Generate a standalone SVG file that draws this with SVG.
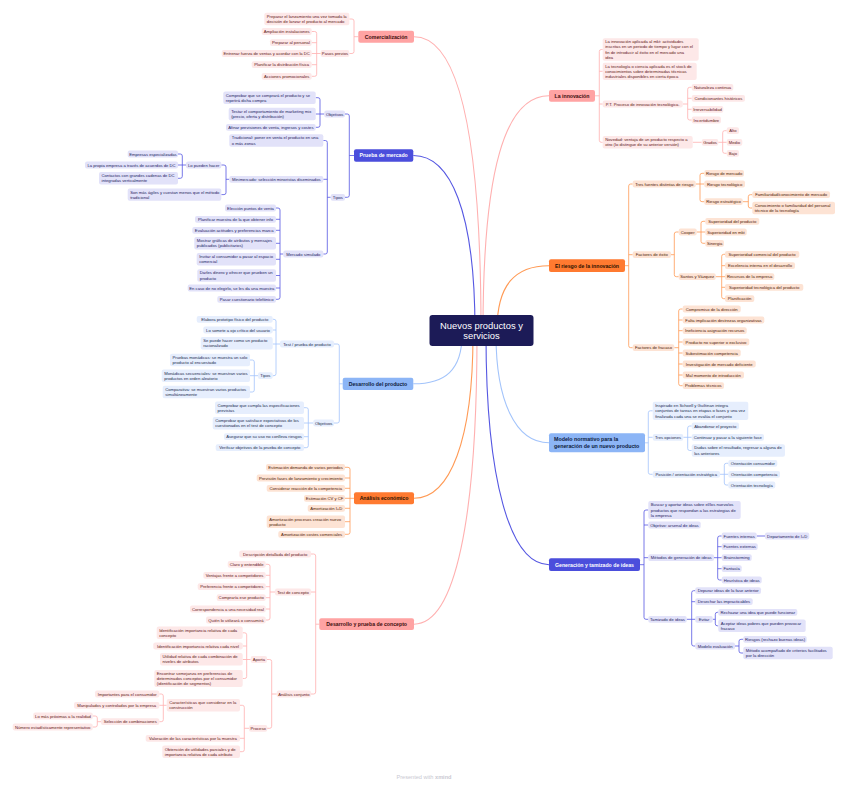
<svg xmlns="http://www.w3.org/2000/svg" width="848" height="788" viewBox="0 0 848 788">
<style>
text{font-family:"Liberation Sans",Arial,sans-serif;font-size:4.2px}
.s{text-anchor:middle}
.m{font-size:5.2px;font-weight:bold;text-anchor:middle}
rect{rx:2px}
.lp{fill:#fde8e8}.tp{fill:#5e1717}
.lb{fill:#e2e2f9}.tb{fill:#1d1d5e}
.ll{fill:#e6eefd}.tl{fill:#1b2b4d}
.lo{fill:#fde3d4}.to{fill:#4d2006}
.mp{fill:#ffa3a3}.tmp{fill:#3b0d0d}
.mb{fill:#4b4edc}.tmb{fill:#ffffff}
.ml{fill:#8cb5f6}.tml{fill:#0d1b3d}
.mo{fill:#ff7a30}.tmo{fill:#2b1100}
#connectors path{fill:none;stroke-width:.8}
.cp{stroke:#ffb0b0}.cb{stroke:#5557e2}.cl{stroke:#a3c4fb}.co{stroke:#ff9a55}
#connectors .main{stroke-width:1.1}
</style>
<rect x="0" y="0" width="848" height="788" fill="#ffffff" style="rx:0"/>
<g id="connectors">
<path class="cp main" d="M414 36.7C455 36.7 481 120 481 330"/>
<path class="cp main" d="M549 95.8C505 95.8 483 170 483 330"/>
<path class="cb main" d="M413.3 155.5C450 155.5 475 210 475 330"/>
<path class="co main" d="M549 265.7C515 265.7 497 285 497 330"/>
<path class="cl main" d="M413.3 383.8C445 383.8 462 370 462 335"/>
<path class="co main" d="M414 498.3C450 498.3 473 440 473 335"/>
<path class="cp main" d="M414 624.2C455 624.2 477 520 477 335"/>
<path class="cl main" d="M549 442.8C515 442.8 496 400 496 335"/>
<path class="cb main" d="M549 564.7C510 564.7 486 480 486 335"/>
<path class="cp" d="M358.3 36.7H354M349.3 19H352Q354 19 354 21V51.5Q354 53.5 352 53.5H349.3"/>
<path class="cp" d="M320.7 53.5H311.7M311.7 31.5H314.7Q316.7 31.5 316.7 33.5V74.3Q316.7 76.3 314.7 76.3H311.7M316.7 42.7H311.7M316.7 64.7H311.7"/>
<path class="cp" d="M319.3 624.2H315.7M311 554H313.7Q315.7 554 315.7 556V692Q315.7 694 313.7 694H311M315.7 592H311"/>
<path class="cp" d="M275 592H270M265.7 564.3H268Q270 564.3 270 566.3V618Q270 620 268 620H265.7M270 575.3H265.7M270 586.7H265.7M270 597.7H265.7M270 609H265.7"/>
<path class="cp" d="M276.7 694H271.7M267 659.5H269.7Q271.7 659.5 271.7 661.5V726.3Q271.7 728.3 269.7 728.3H267"/>
<path class="cp" d="M250.7 659.5H242.7M242.7 632.8H244.7Q246.7 632.8 246.7 634.8V676.5Q246.7 678.5 244.7 678.5H242.7M246.7 646H242.7"/>
<path class="cp" d="M249 728.3H244.3M240 705.3H242.3Q244.3 705.3 244.3 707.3V749.7Q244.3 751.7 242.3 751.7H240M244.3 738.3H240"/>
<path class="cp" d="M166.7 705.3H159.3M159.3 694H161.3Q163.3 694 163.3 696V719.7Q163.3 721.7 161.3 721.7H159.3"/>
<path class="cp" d="M101 721.7H97.3M92.7 716H95.3Q97.3 716 97.3 718V725Q97.3 727 95.3 727H92.7"/>
<path class="cp" d="M595 95.8H599.3M602.7 49.5H601.3Q599.3 49.5 599.3 51.5V140.3Q599.3 142.3 601.3 142.3H602.7M599.3 71.3H602.7M599.3 104H602.7"/>
<path class="cp" d="M682.7 104H687.7M691.7 87.3H689.7Q687.7 87.3 687.7 89.3V118Q687.7 120 689.7 120H691.7M687.7 98.3H691.7M687.7 109.3H691.7"/>
<path class="cp" d="M692.7 142.3H701.7"/>
<path class="cp" d="M718.3 142.3H726.7M726.7 130.7H724.7Q722.7 130.7 722.7 132.7V151.3Q722.7 153.3 724.7 153.3H726.7"/>
<path class="cb" d="M354 155.5H349.3M345 114H347.3Q349.3 114 349.3 116V195.3Q349.3 197.3 347.3 197.3H345"/>
<path class="cb" d="M324.3 114H315.7M315.7 97.7H318Q320 97.7 320 99.7V125.3Q320 127.3 318 127.3H315.7"/>
<path class="cb" d="M330.7 197.3H327.3M323.3 140.5H325.3Q327.3 140.5 327.3 142.5V252Q327.3 254 325.3 254H323.3M327.3 179.3H323.3"/>
<path class="cb" d="M229.3 179.3H226M221.3 165H224Q226 165 226 167V192.6Q226 194.6 224 194.6H221.3"/>
<path class="cb" d="M186 165H178M178 154H180.3Q182.3 154 182.3 156V176.3Q182.3 178.3 180.3 178.3H178"/>
<path class="cb" d="M283.3 254H280M276 208H278Q280 208 280 210V297.3Q280 299.3 278 299.3H276M280 219.3H276M280 230.3H276M280 243.3H276M280 259.3H276M280 275.5H276M280 288H276"/>
<path class="cb" d="M640 564.7H644M648.3 510H646Q644 510 644 512V617.3Q644 619.3 646 619.3H648.3M644 525H648.3M644 557.7H648.3"/>
<path class="cb" d="M714 557.7H721.7M721.7 536H719.7Q717.7 536 717.7 538V578Q717.7 580 719.7 580H721.7M717.7 546.7H721.7M717.7 568.7H721.7"/>
<path class="cb" d="M756.7 536H765"/>
<path class="cb" d="M686.7 619.3H695.3M695.3 590.7H693.7Q691.7 590.7 691.7 592.7V644Q691.7 646 693.7 646H695.3M691.7 601.7H695.3"/>
<path class="cb" d="M712.7 619.3H715.3M718.3 612.3H717.3Q715.3 612.3 715.3 614.3V623.8Q715.3 625.8 717.3 625.8H718.3"/>
<path class="cb" d="M735 646H739M743.3 639.3H741Q739 639.3 739 641.3V651Q739 653 741 653H743.3"/>
<path class="cl" d="M342.7 383.8H339.3M334 344H337.3Q339.3 344 339.3 346V421Q339.3 423 337.3 423H334"/>
<path class="cl" d="M280 344H272.7M272.7 319.3H274Q276 319.3 276 321.3V373.7Q276 375.7 274 375.7H272.7M276 330H272.7"/>
<path class="cl" d="M258 375.7H250M250 360H252.3Q254.3 360 254.3 362V390Q254.3 392 252.3 392H250"/>
<path class="cl" d="M313.3 423H304M304 407.7H306.3Q308.3 407.7 308.3 409.7V445.7Q308.3 447.7 306.3 447.7H304M308.3 436.7H304"/>
<path class="cl" d="M645 442.8H648.3M652.7 410.8H650.3Q648.3 410.8 648.3 412.8V472.3Q648.3 474.3 650.3 474.3H652.7M648.3 437.3H652.7"/>
<path class="cl" d="M683.3 437.3H691.7M691.7 426H689.7Q687.7 426 687.7 428V448.5Q687.7 450.5 689.7 450.5H691.7"/>
<path class="cl" d="M720 474.3H728.3M728.3 463.3H726.3Q724.3 463.3 724.3 465.3V483Q724.3 485 726.3 485H728.3"/>
<path class="co" d="M354 498.3H345M345 467.3H348Q350 467.3 350 469.3V532.3Q350 534.3 348 534.3H345M350 478H345M350 488.3H345M350 508.3H345M350 521.7H345"/>
<path class="co" d="M625 265.7H628.7M632.7 184H630.7Q628.7 184 628.7 186V345.7Q628.7 347.7 630.7 347.7H632.7M628.7 254.7H632.7"/>
<path class="co" d="M695.7 184H704.3M704.3 173.3H702Q700 173.3 700 175.3V199.7Q700 201.7 702 201.7H704.3"/>
<path class="co" d="M742.7 201.7H748.3M752.3 194.7H750.3Q748.3 194.7 748.3 196.7V206Q748.3 208 750.3 208H752.3"/>
<path class="co" d="M671 254.7H674.3M678.7 232H676.3Q674.3 232 674.3 234V274.7Q674.3 276.7 676.3 276.7H678.7"/>
<path class="co" d="M696.7 232H705.3M705.3 221.3H703Q701 221.3 701 223.3V241.3Q701 243.3 703 243.3H705.3"/>
<path class="co" d="M715.7 276.7H725M725 254.3H723.7Q721.7 254.3 721.7 256.3V296.7Q721.7 298.7 723.7 298.7H725M721.7 265.7H725M721.7 287.3H725"/>
<path class="co" d="M674.3 347.7H678.7M682.7 309H680.7Q678.7 309 678.7 311V383.7Q678.7 385.7 680.7 385.7H682.7M678.7 320H682.7M678.7 330.7H682.7M678.7 342H682.7M678.7 353H682.7M678.7 364H682.7M678.7 375H682.7"/>
</g>

<g id="central"><rect x="429.5" y="315" width="104" height="31" fill="#1c1b57" style="rx:3px"/><text x="481.5" y="328.5" class="s" fill="#ffffff" style="font-size:9.4px">Nuevos productos y</text><text x="481.5" y="338.8" class="s" fill="#ffffff" style="font-size:9.4px">servicios</text></g>

<!-- Comercialización -->
<g id="comercializacion"><rect class="mp" x="358.3" y="30.7" width="55.7" height="12"/><text class="m tmp" x="386.2" y="38.5">Comercialización</text></g>
<g id="c-lanzamiento"><rect class="lp" x="264.3" y="12.7" width="85" height="12.6"/><text class="tp" x="266.8" y="17.9">Preparar el lanzamiento una vez tomada la<tspan x="266.8" dy="5.2">decisión de lanzar el producto al mercado</tspan></text></g>
<g id="c-pasos"><rect class="lp" x="320.7" y="50.1" width="28.6" height="6.8"/><text class="s tp" x="335" y="55">Pasos previos</text></g>
<g id="c-ampliacion"><rect class="lp" x="261.7" y="28.1" width="50" height="6.8"/><text class="s tp" x="286.7" y="33">Ampliación instalaciones</text></g>
<g id="c-personal"><rect class="lp" x="270" y="39.3" width="41.7" height="6.8"/><text class="s tp" x="290.9" y="44.2">Preparar al personal</text></g>
<g id="c-entrenar"><rect class="lp" x="221.7" y="50.1" width="90" height="6.8"/><text class="s tp" x="266.7" y="55">Entrenar fuerza de ventas y acordar con la DC</text></g>
<g id="c-planificar"><rect class="lp" x="251.7" y="61.3" width="60" height="6.8"/><text class="s tp" x="281.7" y="66.2">Planificar la distribución física</text></g>
<g id="c-acciones"><rect class="lp" x="261.7" y="72.9" width="50" height="6.8"/><text class="s tp" x="286.7" y="77.8">Acciones promocionales</text></g>

<!-- Prueba de mercado -->
<g id="prueba-mercado"><rect class="mb" x="354" y="149.3" width="59.3" height="12.4"/><text class="m tmb" x="383.7" y="157.3">Prueba de mercado</text></g>
<g id="pm-objetivos"><rect class="lb" x="324.3" y="110.6" width="20.7" height="6.8"/><text class="s tb" x="334.7" y="115.5">Objetivos</text></g>
<g id="pm-tipos"><rect class="lb" x="330.7" y="193.9" width="14.3" height="6.8"/><text class="s tb" x="337.9" y="198.8">Tipos</text></g>
<g id="pm-o1"><rect class="lb" x="223.3" y="91.5" width="92.4" height="12.4"/><text class="tb" x="225.8" y="96.6">Comprobar que se comprará el producto y se<tspan x="225.8" dy="5.2">repetirá dicha compra</tspan></text></g>
<g id="pm-o2"><rect class="lb" x="228.7" y="107.8" width="87" height="12.4"/><text class="tb" x="231.2" y="112.9">Testar el comportamiento de marketing mix<tspan x="231.2" dy="5.2">(precio, oferta y distribución)</tspan></text></g>
<g id="pm-o3"><rect class="lb" x="226" y="123.9" width="89.7" height="6.8"/><text class="s tb" x="270.9" y="128.8">Afinar previsiones de venta, ingresos y costes</text></g>
<g id="pm-t1"><rect class="lb" x="229.3" y="134.3" width="94" height="12.4"/><text class="tb" x="231.8" y="139.4">Tradicional: poner en venta el producto en una<tspan x="231.8" dy="5.2">o más zonas</tspan></text></g>
<g id="pm-t2"><rect class="lb" x="229.3" y="175.9" width="94" height="6.8"/><text class="s tb" x="276.3" y="180.8">Minimercado: selección minoristas diseminados</text></g>
<g id="pm-t3"><rect class="lb" x="283.3" y="250.6" width="40" height="6.8"/><text class="s tb" x="303.3" y="255.5">Mercado simulado</text></g>
<g id="pm-pueden"><rect class="lb" x="186" y="161.6" width="35.3" height="6.8"/><text class="s tb" x="203.7" y="166.5">Lo pueden hacer</text></g>
<g id="pm-agiles"><rect class="lb" x="127.7" y="188.4" width="93.6" height="12.4"/><text class="tb" x="130.2" y="193.5">Son más ágiles y cuestan menos que el método<tspan x="130.2" dy="5.2">tradicional</tspan></text></g>
<g id="pm-empresas"><rect class="lb" x="127.7" y="150.6" width="50.3" height="6.8"/><text class="s tb" x="152.9" y="155.5">Empresas especializadas</text></g>
<g id="pm-propia"><rect class="lb" x="85" y="161.6" width="93" height="6.8"/><text class="s tb" x="131.5" y="166.5">La propia empresa a través de acuerdos de DC</text></g>
<g id="pm-contactos"><rect class="lb" x="99" y="172.1" width="79" height="12.4"/><text class="tb" x="101.5" y="177.2">Contactos con grandes cadenas de DC<tspan x="101.5" dy="5.2">integradas verticalmente</tspan></text></g>
<g id="pm-s1"><rect class="lb" x="225" y="204.6" width="51" height="6.8"/><text class="s tb" x="250.5" y="209.5">Elección puntos de venta</text></g>
<g id="pm-s2"><rect class="lb" x="195" y="215.9" width="81" height="6.8"/><text class="s tb" x="235.5" y="220.8">Planificar muestra de la que obtener info</text></g>
<g id="pm-s3"><rect class="lb" x="192.3" y="226.9" width="83.7" height="6.8"/><text class="s tb" x="234.2" y="231.8">Evaluación actitudes y preferencias marca</text></g>
<g id="pm-s4"><rect class="lb" x="194.3" y="237.1" width="81.7" height="12.4"/><text class="tb" x="196.8" y="242.2">Mostrar gráficas de atributos y mensajes<tspan x="196.8" dy="5.2">publicados (publicitarios)</tspan></text></g>
<g id="pm-s5"><rect class="lb" x="196.7" y="253.1" width="79.3" height="12.4"/><text class="tb" x="199.2" y="258.2">Invitar al consumidor a pasar al espacio<tspan x="199.2" dy="5.2">comercial</tspan></text></g>
<g id="pm-s6"><rect class="lb" x="197.3" y="269.3" width="78.7" height="12.4"/><text class="tb" x="199.8" y="274.4">Darles dinero y ofrecer que prueben un<tspan x="199.8" dy="5.2">producto</tspan></text></g>
<g id="pm-s7"><rect class="lb" x="187.7" y="284.6" width="88.3" height="6.8"/><text class="s tb" x="231.8" y="289.5">En caso de no elegirlo, se les da una muestra</text></g>
<g id="pm-s8"><rect class="lb" x="217.3" y="295.9" width="58.7" height="6.8"/><text class="s tb" x="246.6" y="300.8">Pasar cuestionario telefónico</text></g>

<!-- Desarrollo del producto -->
<g id="desarrollo-producto"><rect class="ml" x="342.7" y="377.7" width="70.6" height="12.3"/><text class="m tml" x="378" y="385.6">Desarrollo del producto</text></g>
<g id="dp-test"><rect class="ll" x="280" y="340.6" width="54" height="6.8"/><text class="s tl" x="307" y="345.5">Test / prueba de producto</text></g>
<g id="dp-objetivos"><rect class="ll" x="313.3" y="419.6" width="20.7" height="6.8"/><text class="s tl" x="323.7" y="424.5">Objetivos</text></g>
<g id="dp-t1"><rect class="ll" x="196.7" y="315.9" width="76" height="6.8"/><text class="s tl" x="234.7" y="320.8">Elabora prototipo físico del producto</text></g>
<g id="dp-t2"><rect class="ll" x="203.3" y="326.6" width="69.4" height="6.8"/><text class="s tl" x="238" y="331.5">Lo somete a ojo crítico del usuario</text></g>
<g id="dp-t3"><rect class="ll" x="200.7" y="337.1" width="72" height="12.4"/><text class="tl" x="203.2" y="342.2">Se puede hacer como un producto<tspan x="203.2" dy="5.2">racionalizado</tspan></text></g>
<g id="dp-tipos"><rect class="ll" x="258" y="372.3" width="14.7" height="6.8"/><text class="s tl" x="265.3" y="377.2">Tipos</text></g>
<g id="dp-p1"><rect class="ll" x="170" y="353.8" width="80" height="12.4"/><text class="tl" x="172.5" y="358.9">Pruebas monádicas: se muestra un solo<tspan x="172.5" dy="5.2">producto al encuestado</tspan></text></g>
<g id="dp-p2"><rect class="ll" x="161.7" y="369.6" width="88.3" height="12.4"/><text class="tl" x="164.2" y="374.7">Monádicas secuenciales: se muestran varios<tspan x="164.2" dy="5.2">productos en orden aleatorio</tspan></text></g>
<g id="dp-p3"><rect class="ll" x="162.7" y="385.8" width="87.3" height="12.4"/><text class="tl" x="165.2" y="390.9">Comparativa: se muestran varios productos<tspan x="165.2" dy="5.2">simultáneamente</tspan></text></g>
<g id="dp-o1"><rect class="ll" x="215" y="401.5" width="89" height="12.4"/><text class="tl" x="217.5" y="406.6">Comprobar que cumpla las especificaciones<tspan x="217.5" dy="5.2">previstas</tspan></text></g>
<g id="dp-o2"><rect class="ll" x="212.7" y="417.1" width="91.3" height="12.4"/><text class="tl" x="215.2" y="422.2">Comprobar que satisface expectativas de los<tspan x="215.2" dy="5.2">cuestionados en el test de concepto</tspan></text></g>
<g id="dp-o3"><rect class="ll" x="224" y="433.3" width="80" height="6.8"/><text class="s tl" x="264" y="438.2">Asegurar que su uso no conlleva riesgos</text></g>
<g id="dp-o4"><rect class="ll" x="215.7" y="444.3" width="88.3" height="6.8"/><text class="s tl" x="259.8" y="449.2">Verificar objetivos de la prueba de concepto</text></g>

<!-- Análisis económico -->
<g id="analisis-economico"><rect class="mo" x="354" y="492.3" width="60" height="12"/><text class="m tmo" x="384" y="500.1">Análisis económico</text></g>
<g id="ae-1"><rect class="lo" x="266" y="463.9" width="79" height="6.8"/><text class="s to" x="305.5" y="468.8">Estimación demanda de varios periodos</text></g>
<g id="ae-2"><rect class="lo" x="256.7" y="474.6" width="88.3" height="6.8"/><text class="s to" x="300.8" y="479.5">Previsión fases de lanzamiento y crecimiento</text></g>
<g id="ae-3"><rect class="lo" x="266.7" y="484.9" width="78.3" height="6.8"/><text class="s to" x="305.8" y="489.8">Considerar reacción de la competencia</text></g>
<g id="ae-4"><rect class="lo" x="304" y="494.9" width="41" height="6.8"/><text class="s to" x="324.5" y="499.8">Estimación CV y CF</text></g>
<g id="ae-5"><rect class="lo" x="307.7" y="504.9" width="37.3" height="6.8"/><text class="s to" x="326.3" y="509.8">Amortización I+D</text></g>
<g id="ae-6"><rect class="lo" x="266.7" y="515.5" width="78.3" height="12.4"/><text class="to" x="269.2" y="520.6">Amortización procesos creación nuevo<tspan x="269.2" dy="5.2">producto</tspan></text></g>
<g id="ae-7"><rect class="lo" x="278.3" y="530.9" width="66.7" height="6.8"/><text class="s to" x="311.6" y="535.8">Amortización costes comerciales</text></g>

<!-- Desarrollo y prueba de concepto -->
<g id="desarrollo-concepto"><rect class="mp" x="319.3" y="618.3" width="94.7" height="11.8"/><text class="m tmp" x="366.7" y="626">Desarrollo y prueba de concepto</text></g>
<g id="dc-descripcion"><rect class="lp" x="239.3" y="550.6" width="71.7" height="6.8"/><text class="s tp" x="275.2" y="555.5">Descripción detallada del producto</text></g>
<g id="dc-test"><rect class="lp" x="275" y="588.6" width="36" height="6.8"/><text class="s tp" x="293" y="593.5">Test de concepto</text></g>
<g id="dc-conjunto"><rect class="lp" x="276.7" y="690.6" width="34.3" height="6.8"/><text class="s tp" x="293.9" y="695.5">Análisis conjunto</text></g>
<g id="dc-t1"><rect class="lp" x="227.7" y="560.9" width="38" height="6.8"/><text class="s tp" x="246.7" y="565.8">Claro y entendible</text></g>
<g id="dc-t2"><rect class="lp" x="203.3" y="571.9" width="62.4" height="6.8"/><text class="s tp" x="234.5" y="576.8">Ventajas frente a competidores</text></g>
<g id="dc-t3"><rect class="lp" x="197.7" y="583.3" width="68" height="6.8"/><text class="s tp" x="231.7" y="588.2">Preferencia frente a competidores</text></g>
<g id="dc-t4"><rect class="lp" x="216.7" y="594.3" width="49" height="6.8"/><text class="s tp" x="241.2" y="599.2">Compraría ese producto</text></g>
<g id="dc-t5"><rect class="lp" x="190" y="605.6" width="75.7" height="6.8"/><text class="s tp" x="227.9" y="610.5">Correspondencia a una necesidad real</text></g>
<g id="dc-t6"><rect class="lp" x="206" y="616.6" width="59.7" height="6.8"/><text class="s tp" x="235.9" y="621.5">Quién lo utilizará o consumirá</text></g>
<g id="dc-aporta"><rect class="lp" x="250.7" y="656.1" width="16.3" height="6.8"/><text class="s tp" x="258.9" y="661">Aporta</text></g>
<g id="dc-proceso"><rect class="lp" x="249" y="724.9" width="18.3" height="6.8"/><text class="s tp" x="258.2" y="729.8">Proceso</text></g>
<g id="dc-a1"><rect class="lp" x="156.7" y="626.6" width="86" height="12.4"/><text class="tp" x="159.2" y="631.7">Identificación importancia relativa de cada<tspan x="159.2" dy="5.2">concepto</tspan></text></g>
<g id="dc-a2"><rect class="lp" x="153.3" y="642.6" width="89.4" height="6.8"/><text class="s tp" x="198" y="647.5">Identificación importancia relativa cada nivel</text></g>
<g id="dc-a3"><rect class="lp" x="160" y="653" width="82.7" height="12.4"/><text class="tp" x="162.5" y="658.1">Utilidad relativa de cada combinación de<tspan x="162.5" dy="5.2">niveles de atributos</tspan></text></g>
<g id="dc-a4"><rect class="lp" x="154.3" y="670" width="88.4" height="17"/><text class="tp" x="156.8" y="674.8">Encontrar semejanza en preferencias de<tspan x="156.8" dy="5.2">determinados conceptos por el consumidor</tspan><tspan x="156.8" dy="5.2">(identificación de segmentos)</tspan></text></g>
<g id="dc-p1"><rect class="lp" x="166.7" y="699.1" width="73.3" height="12.4"/><text class="tp" x="169.2" y="704.2">Características que considerar en la<tspan x="169.2" dy="5.2">construcción</tspan></text></g>
<g id="dc-p2"><rect class="lp" x="145.7" y="734.9" width="94.3" height="6.8"/><text class="s tp" x="192.9" y="739.8">Valoración de las características por la muestra</text></g>
<g id="dc-p3"><rect class="lp" x="162.3" y="745.5" width="77.7" height="12.4"/><text class="tp" x="164.8" y="750.6">Obtención de utilidades parciales y de<tspan x="164.8" dy="5.2">importancia relativa de cada atributo</tspan></text></g>
<g id="dc-c1"><rect class="lp" x="95" y="690.6" width="64.3" height="6.8"/><text class="s tp" x="127.2" y="695.5">Importantes para el consumidor</text></g>
<g id="dc-c2"><rect class="lp" x="74" y="701.9" width="85.3" height="6.8"/><text class="s tp" x="116.7" y="706.8">Manipulados y controlados por la empresa</text></g>
<g id="dc-c3"><rect class="lp" x="101" y="718.3" width="58.3" height="6.8"/><text class="s tp" x="130.2" y="723.2">Selección de combinaciones</text></g>
<g id="dc-s1"><rect class="lp" x="33.3" y="712.6" width="59.4" height="6.8"/><text class="s tp" x="63" y="717.5">Lo más próximas a la realidad</text></g>
<g id="dc-s2"><rect class="lp" x="12.7" y="723.6" width="80" height="6.8"/><text class="s tp" x="52.7" y="728.5">Número estadísticamente representativo</text></g>

<!-- La innovación -->
<g id="innovacion"><rect class="mp" x="549" y="90" width="46" height="11.7"/><text class="m tmp" x="572" y="97.6">La innovación</text></g>
<g id="in-1"><rect class="lp" x="602.7" y="38.3" width="96" height="22.4"/><text class="tp" x="605.2" y="43.2">La innovación aplicada al mkt: actividades<tspan x="605.2" dy="5.2">inscritas en un periodo de tiempo y lugar con el</tspan><tspan x="605.2" dy="5.2">fin de introducir al éxito en el mercado una</tspan><tspan x="605.2" dy="5.2">idea</tspan></text></g>
<g id="in-2"><rect class="lp" x="602.7" y="62.7" width="94" height="17.3"/><text class="tp" x="605.2" y="67.9">La tecnología o ciencia aplicada es el stock de<tspan x="605.2" dy="5.2">conocimientos sobre determinadas técnicas</tspan><tspan x="605.2" dy="5.2">industriales disponibles en cierta época</tspan></text></g>
<g id="in-pt"><rect class="lp" x="602.7" y="100.6" width="80" height="6.8"/><text class="s tp" x="642.7" y="105.5">P.T. Proceso de innovación tecnológica.</text></g>
<g id="in-novedad"><rect class="lp" x="602.7" y="136" width="90" height="12.6"/><text class="tp" x="605.2" y="141.2">Novedad: ventaja de un producto respecto a<tspan x="605.2" dy="5.2">otro (lo distingue de su anterior versión)</tspan></text></g>
<g id="in-p1"><rect class="lp" x="691.7" y="83.9" width="41.6" height="6.8"/><text class="s tp" x="712.5" y="88.8">Naturaleza continua</text></g>
<g id="in-p2"><rect class="lp" x="691.7" y="94.9" width="53.3" height="6.8"/><text class="s tp" x="718.4" y="99.8">Condicionantes históricos</text></g>
<g id="in-p3"><rect class="lp" x="691.7" y="105.9" width="31.6" height="6.8"/><text class="s tp" x="707.5" y="110.8">Irreversabilidad</text></g>
<g id="in-p4"><rect class="lp" x="691.7" y="116.6" width="29.3" height="6.8"/><text class="s tp" x="706.4" y="121.5">Incertidumbre</text></g>
<g id="in-grados"><rect class="lp" x="701.7" y="138.9" width="16.6" height="6.8"/><text class="s tp" x="710" y="143.8">Grados</text></g>
<g id="in-alto"><rect class="lp" x="726.7" y="127.3" width="12.3" height="6.8"/><text class="s tp" x="732.9" y="132.2">Alto</text></g>
<g id="in-medio"><rect class="lp" x="726.7" y="138.9" width="15.6" height="6.8"/><text class="s tp" x="734.5" y="143.8">Medio</text></g>
<g id="in-bajo"><rect class="lp" x="726.7" y="149.9" width="12.3" height="6.8"/><text class="s tp" x="732.9" y="154.8">Bajo</text></g>

<!-- El riesgo de la innovación -->
<g id="riesgo"><rect class="mo" x="549" y="259.3" width="76" height="12.7"/><text class="m tmo" x="587" y="267.5">El riesgo de la innovación</text></g>
<g id="r-tres"><rect class="lo" x="632.7" y="180.6" width="63" height="6.8"/><text class="s to" x="664.2" y="185.5">Tres fuentes distintas de riesgo</text></g>
<g id="r-exito"><rect class="lo" x="632.7" y="251.3" width="38.3" height="6.8"/><text class="s to" x="651.8" y="256.2">Factores de éxito</text></g>
<g id="r-fracaso"><rect class="lo" x="632.7" y="344.3" width="41.6" height="6.8"/><text class="s to" x="653.5" y="349.2">Factores de fracaso</text></g>
<g id="r-t1"><rect class="lo" x="704.3" y="169.9" width="39.7" height="6.8"/><text class="s to" x="724.1" y="174.8">Riesgo de mercado</text></g>
<g id="r-t2"><rect class="lo" x="704.3" y="180.6" width="40.7" height="6.8"/><text class="s to" x="724.6" y="185.5">Riesgo tecnológico</text></g>
<g id="r-t3"><rect class="lo" x="704.3" y="198.3" width="38.4" height="6.8"/><text class="s to" x="723.5" y="203.2">Riesgo estratégico</text></g>
<g id="r-e1"><rect class="lo" x="752.3" y="191.3" width="77.7" height="6.8"/><text class="s to" x="791.1" y="196.2">Familiaridad/conocimiento de mercado</text></g>
<g id="r-e2"><rect class="lo" x="752.3" y="201.8" width="82.7" height="12.4"/><text class="to" x="754.8" y="206.9">Conocimiento o familiaridad del personal<tspan x="754.8" dy="5.2">técnico de la tecnología</tspan></text></g>
<g id="r-cooper"><rect class="lo" x="678.7" y="228.6" width="18" height="6.8"/><text class="s to" x="687.7" y="233.5">Cooper</text></g>
<g id="r-santos"><rect class="lo" x="678.7" y="273.3" width="37" height="6.8"/><text class="s to" x="697.2" y="278.2">Santos y Vázquez</text></g>
<g id="r-c1"><rect class="lo" x="705.3" y="217.9" width="54" height="6.8"/><text class="s to" x="732.3" y="222.8">Superioridad del producto</text></g>
<g id="r-c2"><rect class="lo" x="705.3" y="228.6" width="41.4" height="6.8"/><text class="s to" x="726" y="233.5">Superioridad en mkt</text></g>
<g id="r-c3"><rect class="lo" x="705.3" y="239.9" width="18.7" height="6.8"/><text class="s to" x="714.6" y="244.8">Sinergia</text></g>
<g id="r-s1"><rect class="lo" x="725" y="250.9" width="74.3" height="6.8"/><text class="s to" x="762.1" y="255.8">Superioridad comercial del producto</text></g>
<g id="r-s2"><rect class="lo" x="725" y="262.3" width="70" height="6.8"/><text class="s to" x="760" y="267.2">Excelencia interna en el desarrollo</text></g>
<g id="r-s3"><rect class="lo" x="725" y="273.3" width="49.3" height="6.8"/><text class="s to" x="749.6" y="278.2">Recursos de la empresa</text></g>
<g id="r-s4"><rect class="lo" x="725" y="283.9" width="78.3" height="6.8"/><text class="s to" x="764.1" y="288.8">Superioridad tecnológica del producto</text></g>
<g id="r-s5"><rect class="lo" x="725" y="295.3" width="29.3" height="6.8"/><text class="s to" x="739.6" y="300.2">Planificación</text></g>
<g id="r-f1"><rect class="lo" x="682.7" y="305.6" width="58" height="6.8"/><text class="s to" x="711.7" y="310.5">Compromiso de la dirección</text></g>
<g id="r-f2"><rect class="lo" x="682.7" y="316.6" width="81.6" height="6.8"/><text class="s to" x="723.5" y="321.5">Falta implicación destrezas organizativas</text></g>
<g id="r-f3"><rect class="lo" x="682.7" y="327.3" width="64" height="6.8"/><text class="s to" x="714.7" y="332.2">Ineficiencia asignación recursos</text></g>
<g id="r-f4"><rect class="lo" x="682.7" y="338.6" width="66.6" height="6.8"/><text class="s to" x="716" y="343.5">Producto no superior o exclusivo</text></g>
<g id="r-f5"><rect class="lo" x="682.7" y="349.6" width="58" height="6.8"/><text class="s to" x="711.7" y="354.5">Subestimación competencia</text></g>
<g id="r-f6"><rect class="lo" x="682.7" y="360.6" width="73" height="6.8"/><text class="s to" x="719.2" y="365.5">Investigación de mercado deficiente</text></g>
<g id="r-f7"><rect class="lo" x="682.7" y="371.6" width="61.3" height="6.8"/><text class="s to" x="713.3" y="376.5">Mal momento de introducción</text></g>
<g id="r-f8"><rect class="lo" x="682.7" y="382.3" width="41.3" height="6.8"/><text class="s to" x="703.3" y="387.2">Problemas técnicos</text></g>

<!-- Modelo normativo -->
<g id="modelo-normativo"><rect class="ml" x="549" y="433.3" width="96" height="19"/><text class="tml" x="554" y="440.9" style="font-size:5.3px;font-weight:bold">Modelo normativo para la<tspan x="554" dy="7.3">generación de un nuevo producto</tspan></text></g>
<g id="mn-1"><rect class="ll" x="652.7" y="401.7" width="95.6" height="18.3"/><text class="tl" x="655.2" y="407.1">Inspirado en Schoell y Guiltinan integra<tspan x="655.2" dy="5.2">conjuntos de tareas en etapas o fases y una vez</tspan><tspan x="655.2" dy="5.2">finalizada cada una se evalúa el conjunto</tspan></text></g>
<g id="mn-tres"><rect class="ll" x="652.7" y="433.9" width="30.6" height="6.8"/><text class="s tl" x="668" y="438.8">Tres opciones</text></g>
<g id="mn-posicion"><rect class="ll" x="652.7" y="470.9" width="67.3" height="6.8"/><text class="s tl" x="686.3" y="475.8">Posición / orientación estratégica</text></g>
<g id="mn-t1"><rect class="ll" x="691.7" y="422.6" width="47.3" height="6.8"/><text class="s tl" x="715.3" y="427.5">Abandonar el proyecto</text></g>
<g id="mn-t2"><rect class="ll" x="691.7" y="433.9" width="72.3" height="6.8"/><text class="s tl" x="727.8" y="438.8">Continuar y pasar a la siguiente fase</text></g>
<g id="mn-t3"><rect class="ll" x="691.7" y="444.3" width="93.3" height="12.4"/><text class="tl" x="694.2" y="449.4">Dudas sobre el resultado, regresar a alguna de<tspan x="694.2" dy="5.2">las anteriores</tspan></text></g>
<g id="mn-p1"><rect class="ll" x="728.3" y="459.9" width="49" height="6.8"/><text class="s tl" x="752.8" y="464.8">Orientación consumidor</text></g>
<g id="mn-p2"><rect class="ll" x="728.3" y="470.9" width="51.7" height="6.8"/><text class="s tl" x="754.1" y="475.8">Orientación competencia</text></g>
<g id="mn-p3"><rect class="ll" x="728.3" y="481.6" width="47" height="6.8"/><text class="s tl" x="751.8" y="486.5">Orientación tecnología</text></g>

<!-- Generación y tamizado de ideas -->
<g id="generacion"><rect class="mb" x="549" y="558.3" width="91" height="12.7"/><text class="m tmb" x="594.5" y="566.5">Generación y tamizado de ideas</text></g>
<g id="g-1"><rect class="lb" x="648.3" y="501" width="92.4" height="18"/><text class="tb" x="650.8" y="506.3">Buscar y aportar ideas sobre el/los nuevo/os<tspan x="650.8" dy="5.2">productos que respondan a las estrategias de</tspan><tspan x="650.8" dy="5.2">la empresa</tspan></text></g>
<g id="g-2"><rect class="lb" x="648.3" y="521.6" width="52.4" height="6.8"/><text class="s tb" x="674.5" y="526.5">Objetivo: arsenal de ideas</text></g>
<g id="g-metodos"><rect class="lb" x="648.3" y="554.3" width="65.7" height="6.8"/><text class="s tb" x="681.2" y="559.2">Métodos de generación de ideas</text></g>
<g id="g-tamizado"><rect class="lb" x="648.3" y="615.9" width="38.4" height="6.8"/><text class="s tb" x="667.5" y="620.8">Tamizado de ideas</text></g>
<g id="g-m1"><rect class="lb" x="721.7" y="532.6" width="35" height="6.8"/><text class="s tb" x="739.2" y="537.5">Fuentes internas</text></g>
<g id="g-m2"><rect class="lb" x="721.7" y="543.3" width="36" height="6.8"/><text class="s tb" x="739.7" y="548.2">Fuentes externas</text></g>
<g id="g-m3"><rect class="lb" x="721.7" y="554.3" width="30" height="6.8"/><text class="s tb" x="736.7" y="559.2">Brainstorming</text></g>
<g id="g-m4"><rect class="lb" x="721.7" y="565.3" width="20" height="6.8"/><text class="s tb" x="731.7" y="570.2">Fantasía</text></g>
<g id="g-m5"><rect class="lb" x="721.7" y="576.6" width="40" height="6.8"/><text class="s tb" x="741.7" y="581.5">Heurística de ideas</text></g>
<g id="g-id"><rect class="lb" x="765" y="532.6" width="44.3" height="6.8"/><text class="s tb" x="787.2" y="537.5">Departamento de I+D</text></g>
<g id="g-t1"><rect class="lb" x="695.3" y="587.3" width="65.7" height="6.8"/><text class="s tb" x="728.2" y="592.2">Depurar ideas de la fase anterior</text></g>
<g id="g-t2"><rect class="lb" x="695.3" y="598.3" width="57.4" height="6.8"/><text class="s tb" x="724" y="603.2">Desechar las impracticables</text></g>
<g id="g-evitar"><rect class="lb" x="695.3" y="615.9" width="17.4" height="6.8"/><text class="s tb" x="704" y="620.8">Evitar</text></g>
<g id="g-modelo"><rect class="lb" x="695.3" y="642.6" width="39.7" height="6.8"/><text class="s tb" x="715.2" y="647.5">Modelo evaluación</text></g>
<g id="g-e1"><rect class="lb" x="718.3" y="608.9" width="79" height="6.8"/><text class="s tb" x="757.8" y="613.8">Rechazar una idea que puede funcionar</text></g>
<g id="g-e2"><rect class="lb" x="718.3" y="619.6" width="87.4" height="12.4"/><text class="tb" x="720.8" y="624.7">Aceptar ideas pobres que pueden provocar<tspan x="720.8" dy="5.2">fracaso</tspan></text></g>
<g id="g-v1"><rect class="lb" x="743.3" y="635.9" width="63.4" height="6.8"/><text class="s tb" x="775" y="640.8">Riesgos (rechazo buenas ideas)</text></g>
<g id="g-v2"><rect class="lb" x="743.3" y="646.8" width="89.4" height="12.4"/><text class="tb" x="745.8" y="651.9">Método acompañado de criterios facilitados<tspan x="745.8" dy="5.2">por la dirección</tspan></text></g>

<text x="424" y="779" class="s" fill="#c9c9d2" style="font-size:5.6px">Presented with <tspan font-weight="bold">xmind</tspan></text>
</svg>
